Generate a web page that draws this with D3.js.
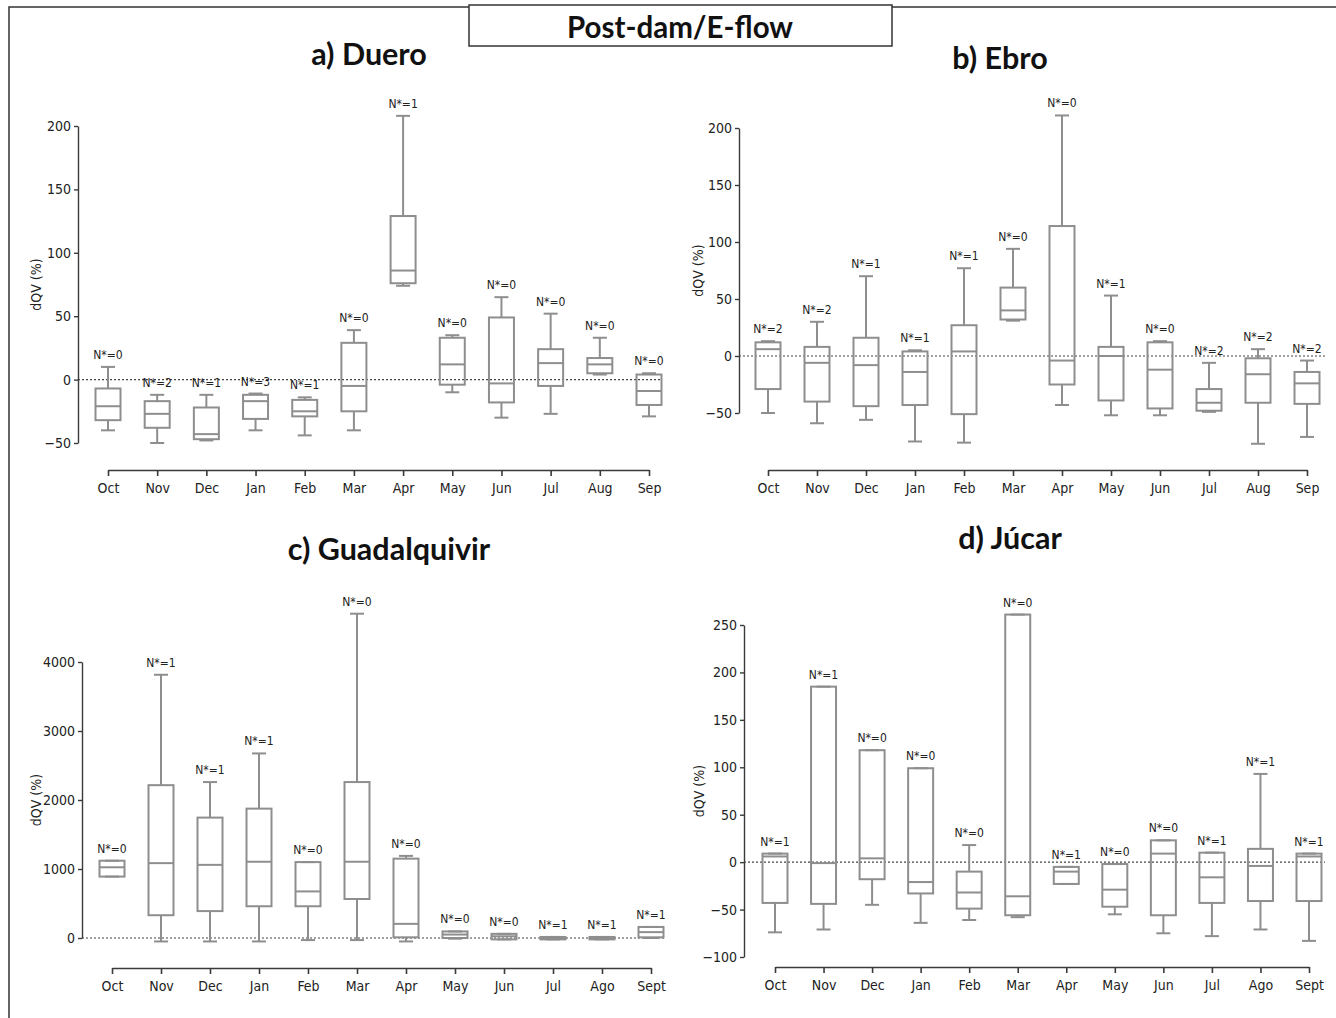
<!DOCTYPE html>
<html><head><meta charset="utf-8">
<script src="https://cdn.jsdelivr.net/npm/d3@7"></script>
<style>
body{margin:0;background:#fff;}
svg{display:block;}
</style></head>
<body>
<svg id="chart" width="1336" height="1018"></svg>
<script>
// ---------------- DATA ----------------
const monthsA = ["Oct","Nov","Dec","Jan","Feb","Mar","Apr","May","Jun","Jul","Aug","Sep"];
const monthsB = ["Oct","Nov","Dec","Jan","Feb","Mar","Apr","May","Jun","Jul","Ago","Sept"];

// a) Duero
const dueroMin = [-40,-50,-48,-40,-44,-40,74,-10,-30,-27,4,-29];
const dueroQ1  = [-32,-38,-47,-31,-29,-25,76,-4,-18,-5,5,-20];
const dueroMed = [-21,-27,-43,-17,-25,-5,86,12,-3,13,12,-9];
const dueroQ3  = [-7,-17,-22,-12,-16,29,129,33,49,24,17,4];
const dueroMax = [10,-12,-12,-11,-14,39,208,35,65,52,33,5];
const dueroN   = [0,2,1,3,1,0,1,0,0,0,0,0];
const dueroTicks = [-50,0,50,100,150,200];

// b) Ebro
const ebroMin = [-50,-59,-56,-75,-76,31,-43,-52,-52,-49,-77,-71];
const ebroQ1  = [-29,-40,-44,-43,-51,32,-25,-39,-46,-48,-41,-42];
const ebroMed = [6,-6,-8,-14,4,40,-4,0,-12,-41,-16,-24];
const ebroQ3  = [12,8,16,4,27,60,114,8,12,-29,-2,-14];
const ebroMax = [13,30,70,5,77,94,211,53,13,-6,6,-4];
const ebroN   = [2,2,1,1,1,0,0,1,0,2,2,2];
const ebroTicks = [-50,0,50,100,150,200];

// c) Guadalquivir
const guadMin = [890,-50,-50,-50,-30,-30,-50,-10,-20,-20,-20,0];
const guadQ1  = [890,330,390,460,460,565,10,0,-20,-20,-20,10];
const guadMed = [1025,1085,1060,1105,675,1105,205,50,25,-5,-5,85];
const guadQ3  = [1120,2215,1745,1875,1100,2260,1150,95,60,15,15,160];
const guadMax = [1120,3815,2260,2675,1100,4700,1190,95,60,15,15,160];
const guadN   = [0,1,1,1,0,0,0,0,0,1,1,1];
const guadTicks = [0,1000,2000,3000,4000];

// d) Júcar
const jucarMin = [-74,-71,-45,-64,-61,-58,-23,-55,-75,-78,-71,-83];
const jucarQ1  = [-43,-44,-18,-33,-49,-56,-23,-47,-56,-43,-41,-41];
const jucarMed = [6,-1,4,-21,-32,-36,-10,-29,9,-16,-4,6];
const jucarQ3  = [9,185,118,99,-10,261,-5,-2,23,10,14,9];
const jucarMax = [9,185,118,99,18,261,-5,-2,23,10,93,9];
const jucarN   = [1,1,0,0,0,0,1,0,0,1,1,1];
const jucarTicks = [-100,-50,0,50,100,150,200,250];

// ---------------- LAYOUT ----------------
const svg = d3.select("#chart");
const GRAY = "#8e8e8e";
const AX = "#3a3a3a";
const narrow = '"DejaVu Sans Condensed","Liberation Sans Narrow","Arial Narrow",sans-serif';
const titleFont = 'Lato,"Open Sans",sans-serif';

// outer frame and header box
svg.append("rect").attr("x",9).attr("y",7).attr("width",1340).attr("height",1020)
  .attr("fill","none").attr("stroke","#333").attr("stroke-width",1.5);
svg.append("rect").attr("x",469).attr("y",5).attr("width",423).attr("height",41)
  .attr("fill","#fff").attr("stroke","#333").attr("stroke-width",1.5);
svg.append("text").attr("x",680).attr("y",38).attr("text-anchor","middle")
  .attr("font-family",titleFont).attr("font-weight","bold").attr("font-size",29.5)
  .attr("fill","#111").text("Post-dam/E-flow");

const panels = [
  {title:"a) Duero", tx:369, ty:65, months:monthsA, min:dueroMin,q1:dueroQ1,med:dueroMed,q3:dueroQ3,max:dueroMax,n:dueroN,ticks:dueroTicks,
   yAxisX:78, yDom:[-50,200], yRange:[443,126], xAxisY:470, xRange:[108,649], zeroEnd:662, labX:37},
  {title:"b) Ebro", tx:1000, ty:69, months:monthsA, min:ebroMin,q1:ebroQ1,med:ebroMed,q3:ebroQ3,max:ebroMax,n:ebroN,ticks:ebroTicks,
   yAxisX:739, yDom:[-50,200], yRange:[413,128], xAxisY:470, xRange:[768,1307], zeroEnd:1325, labX:699},
  {title:"c) Guadalquivir", tx:389, ty:560, months:monthsB, min:guadMin,q1:guadQ1,med:guadMed,q3:guadQ3,max:guadMax,n:guadN,ticks:guadTicks,
   yAxisX:82, yDom:[0,4000], yRange:[938,662], xAxisY:968, xRange:[112,651], zeroEnd:666, labX:37},
  {title:"d) Júcar", tx:1010, ty:549, months:monthsB, min:jucarMin,q1:jucarQ1,med:jucarMed,q3:jucarQ3,max:jucarMax,n:jucarN,ticks:jucarTicks,
   yAxisX:744, yDom:[-100,250], yRange:[957,625], xAxisY:967, xRange:[775,1309], zeroEnd:1325, labX:700}
];

const BOXW = 25, CAPW = 14;

panels.forEach(p => {
  const y = d3.scaleLinear().domain(p.yDom).range(p.yRange);
  const x = d3.scalePoint().domain(p.months).range(p.xRange);
  const g = svg.append("g");

  g.append("text").attr("x",p.tx).attr("y",p.ty).attr("text-anchor","middle")
    .attr("font-family",titleFont).attr("font-weight","bold").attr("font-size",30.5)
    .attr("fill","#111").text(p.title);

  // y axis
  const ya = g.append("g").attr("transform",`translate(${p.yAxisX},0)`)
    .call(d3.axisLeft(y).tickValues(p.ticks).tickSize(4).tickSizeOuter(0).tickFormat(d=> d<0 ? "\u2212"+Math.abs(d) : d));
  ya.selectAll("path,line").attr("stroke",AX).attr("stroke-width",1.4);
  ya.selectAll("text").attr("font-size",14).attr("fill","#222").attr("font-family",narrow)
    .style("font-stretch","condensed");

  // x axis
  const xa = g.append("g").attr("transform",`translate(0,${p.xAxisY})`)
    .call(d3.axisBottom(x).tickSize(6).tickSizeOuter(0));
  xa.selectAll("path,line").attr("stroke",AX).attr("stroke-width",1.6);
  xa.selectAll("text").attr("font-size",14).attr("fill","#222").attr("font-family",narrow)
    .style("font-stretch","condensed").attr("dy","1.0em");

  // y label
  const ymid = (p.yRange[0]+p.yRange[1])/2;
  g.append("text").attr("transform",`translate(${p.labX},${ymid}) rotate(-90)`)
    .attr("text-anchor","middle").attr("dominant-baseline","middle")
    .attr("font-family",narrow).style("font-stretch","condensed").attr("font-size",14)
    .attr("fill","#222").text("dQV (%)");

  // zero dotted line
  g.append("line").attr("x1",p.yAxisX).attr("x2",p.zeroEnd).attr("y1",y(0)).attr("y2",y(0))
    .attr("stroke","#444").attr("stroke-width",1.2).attr("stroke-dasharray","2,2");

  // boxes
  p.months.forEach((m,i) => {
    const cx = x(m);
    const bg = g.append("g").attr("stroke",GRAY).attr("stroke-width",2).attr("fill","none");
    bg.append("line").attr("x1",cx).attr("x2",cx).attr("y1",y(p.max[i])).attr("y2",y(p.q3[i]));
    bg.append("line").attr("x1",cx).attr("x2",cx).attr("y1",y(p.q1[i])).attr("y2",y(p.min[i]));
    bg.append("line").attr("x1",cx-CAPW/2).attr("x2",cx+CAPW/2).attr("y1",y(p.max[i])).attr("y2",y(p.max[i]));
    bg.append("line").attr("x1",cx-CAPW/2).attr("x2",cx+CAPW/2).attr("y1",y(p.min[i])).attr("y2",y(p.min[i]));
    bg.append("rect").attr("x",cx-BOXW/2).attr("width",BOXW)
      .attr("y",y(p.q3[i])).attr("height",Math.max(1,y(p.q1[i])-y(p.q3[i])));
    bg.append("line").attr("x1",cx-BOXW/2).attr("x2",cx+BOXW/2).attr("y1",y(p.med[i])).attr("y2",y(p.med[i]));
    g.append("text").attr("x",cx).attr("y",y(p.max[i])-8).attr("text-anchor","middle")
      .attr("font-family",narrow).style("font-stretch","condensed").attr("font-size",12)
      .attr("fill","#222").text("N*=" + p.n[i]);
  });
});
</script>
</body></html>
